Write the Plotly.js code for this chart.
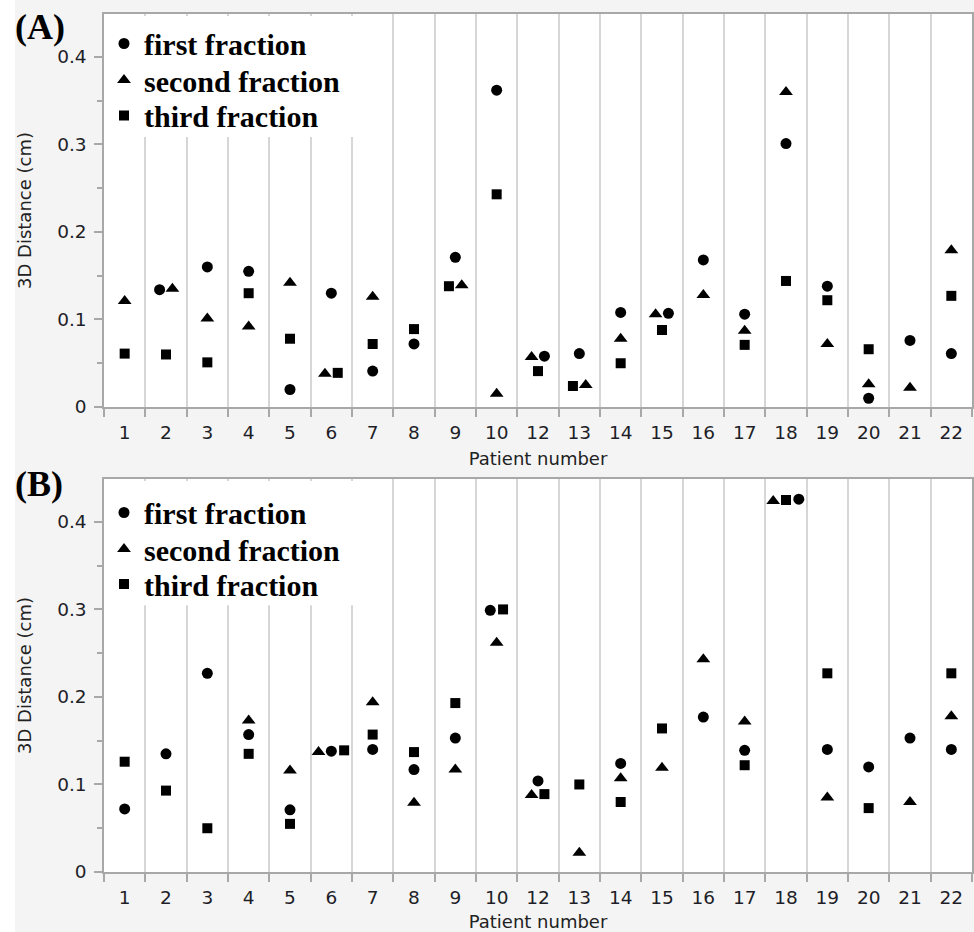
<!DOCTYPE html>
<html>
<head>
<meta charset="utf-8">
<script src="https://cdn.plot.ly/plotly-3.0.1.min.js"></script>
<style>html,body{margin:0;padding:0;background:#f4f4f4;}#chart{width:974px;height:932px;}</style>
</head>
<body>
<div id="chart"></div>
<script>
// ---- Data ----
const patients = ['1','2','3','4','5','6','7','8','9','10','12','13','14','15','16','17','18','19','20','21','22'];
const seriesNames = ['first fraction', 'second fraction', 'third fraction'];

// Panel (A)
const A_first  = [null, 0.134, 0.160, 0.155, 0.020, 0.130, 0.041, 0.072, 0.171, 0.362, 0.058, 0.061, 0.108, 0.107, 0.168, 0.106, 0.301, 0.138, 0.010, 0.076, 0.061];
const A_second = [0.121, 0.135, 0.101, 0.092, 0.142, 0.038, 0.126, null, 0.139, 0.015, 0.057, 0.025, 0.078, 0.106, 0.128, 0.087, 0.360, 0.072, 0.026, 0.022, 0.179];
const A_third  = [0.061, 0.060, 0.051, 0.130, 0.078, 0.039, 0.072, 0.089, 0.138, 0.243, 0.041, 0.024, 0.050, 0.088, null, 0.071, 0.144, 0.122, 0.066, null, 0.127];

// Panel (B)
const B_first  = [0.072, 0.135, 0.227, 0.157, 0.071, 0.138, 0.140, 0.117, 0.153, 0.299, 0.104, null, 0.124, null, 0.177, 0.139, 0.426, 0.140, 0.120, 0.153, 0.140];
const B_second = [null, null, null, 0.173, 0.116, 0.137, 0.194, 0.079, 0.117, 0.262, 0.088, 0.022, 0.107, 0.119, 0.243, 0.172, 0.424, 0.085, null, 0.080, 0.178];
const B_third  = [0.126, 0.093, 0.050, 0.135, 0.055, 0.139, 0.157, 0.137, 0.193, 0.300, 0.089, 0.100, 0.080, 0.164, null, 0.122, 0.425, 0.227, 0.073, null, 0.227];

const yTickVals = [0, 0.1, 0.2, 0.3, 0.4];
const yTickText = ['0', '0.1', '0.2', '0.3', '0.4'];

// ---- Overlap dodge (like the source software): points in one category that
// nearly coincide are spread side by side, ordered by value ----
function dodge(seriesList, threshold, step) {
  const xs = seriesList.map(s => s.map(() => null));
  for (let c = 0; c < patients.length; c++) {
    const pts = [];
    seriesList.forEach((s, si) => { if (s[c] !== null) pts.push({si: si, v: s[c]}); });
    pts.sort((a, b) => a.v - b.v);
    let clusters = [], cur = [];
    pts.forEach(p => {
      if (cur.length && p.v - cur[cur.length - 1].v >= threshold) { clusters.push(cur); cur = []; }
      cur.push(p);
    });
    if (cur.length) clusters.push(cur);
    clusters.forEach(cl => {
      const n = cl.length;
      cl.forEach((p, i) => { xs[p.si][c] = c + (i - (n - 1) / 2) * step; });
    });
  }
  return xs;
}

const symbols = ['circle', 'triangle-up', 'square'];
const sizes = [11, 12, 10];
const idx = patients.map((_, i) => i);

function panelTraces(seriesList, xa, ya, legends) {
  const xs = dodge(seriesList, 0.01, 0.31);
  return seriesList.map((s, i) => ({
    type: 'scatter', mode: 'markers',
    x: xs[i], y: s,
    xaxis: xa, yaxis: ya,
    name: seriesNames[i],
    legend: legends[i],
    marker: {symbol: symbols[i], size: sizes[i], color: '#000'},
    hovertemplate: 'Patient %{text}: %{y}<extra>' + seriesNames[i] + '</extra>',
    text: patients
  }));
}

const traces = [].concat(
  panelTraces([A_first, A_second, A_third], 'x', 'y', ['legend', 'legend2', 'legend3']),
  panelTraces([B_first, B_second, B_third], 'x2', 'y2', ['legend4', 'legend5', 'legend6'])
);

const tickFont = {family: 'DejaVu Sans', size: 18.5, color: '#1e1e28'};
const lineCol = '#a8a8a8';

function xAxis(anchor) {
  return {
    anchor: anchor, domain: [0, 1],
    range: [-0.5, patients.length - 0.5],
    tickmode: 'array', tickvals: idx, ticktext: patients,
    ticks: 'outside', ticklen: 8, tickcolor: 'rgba(0,0,0,0)',
    tickfont: tickFont,
    showgrid: false, zeroline: false,
    showline: true, linecolor: lineCol, linewidth: 1.5, mirror: true,
    minor: {tickmode: 'linear', tick0: -0.5, dtick: 1, ticks: 'outside', ticklen: 8,
            tickcolor: lineCol, tickwidth: 1.5, showgrid: true, gridcolor: '#d6d6d6', gridwidth: 1.5},
    title: {text: 'Patient number', font: {family: 'DejaVu Sans', size: 18, color: '#222'}, standoff: 10}
  };
}
function yAxis(anchor, domain) {
  return {
    anchor: anchor, domain: domain,
    range: [0, 0.449],
    tickmode: 'array', tickvals: yTickVals, ticktext: yTickText,
    ticks: 'outside', ticklen: 8, tickcolor: lineCol, tickwidth: 1.5,
    ticklabelstandoff: 4,
    tickfont: tickFont,
    showgrid: false, zeroline: false,
    showline: true, linecolor: lineCol, linewidth: 1.5, mirror: true,
    minor: {tickmode: 'linear', tick0: 0, dtick: 0.05, ticks: 'outside', ticklen: 5,
            tickcolor: lineCol, tickwidth: 1.5, showgrid: false},
    title: {text: '3D Distance (cm)', font: {family: 'DejaVu Sans', size: 18, color: '#222'}, standoff: 21}
  };
}

const H = 932, T = 14, B = 60, plotH = H - T - B;
function py(pix) { return (H - B - pix) / plotH; }
const legFont = {family: 'Liberation Serif', size: 30, color: '#000', weight: 'bold'};
function leg(yPix) {
  return {x: 0, xanchor: 'left', y: py(yPix), yanchor: 'middle',
          bgcolor: 'rgba(0,0,0,0)', borderwidth: 0, font: legFont};
}

const layout = {
  width: 974, height: 932,
  margin: {l: 104, r: 2, t: T, b: B},
  paper_bgcolor: '#f4f4f4', plot_bgcolor: '#ffffff',
  showlegend: true,
  xaxis: xAxis('y'),
  yaxis: yAxis('x', [py(407), 1]),
  xaxis2: xAxis('y2'),
  yaxis2: yAxis('x2', [0, py(479)]),
  legend: leg(43.5), legend2: leg(80), legend3: leg(115.5),
  legend4: leg(512.5), legend5: leg(549), legend6: leg(584),
  shapes: [
    {type: 'rect', xref: 'x domain', yref: 'y domain', x0: 0.0025, x1: 0.33, y0: 0.687, y1: 0.995,
     fillcolor: '#ffffff', line: {width: 0}, layer: 'above'},
    {type: 'rect', xref: 'x2 domain', yref: 'y2 domain', x0: 0.0025, x1: 0.33, y0: 0.679, y1: 0.995,
     fillcolor: '#ffffff', line: {width: 0}, layer: 'above'},
    {type: 'rect', xref: 'paper', yref: 'paper', x0: -104 / 868, x1: (15 - 104) / 868,
     y0: -B / plotH, y1: 1 + T / plotH, fillcolor: '#ffffff', line: {width: 0}, layer: 'below'}
  ],
  annotations: [
    {text: '(A)', xref: 'paper', yref: 'paper', x: (13 - 104) / 868, xanchor: 'left', y: py(27), yanchor: 'middle',
     showarrow: false, font: {family: 'Liberation Serif', size: 36, color: '#000', weight: 'bold'}},
    {text: '(B)', xref: 'paper', yref: 'paper', x: (13 - 104) / 868, xanchor: 'left', y: py(484), yanchor: 'middle',
     showarrow: false, font: {family: 'Liberation Serif', size: 36, color: '#000', weight: 'bold'}}
  ]
};

Plotly.newPlot('chart', traces, layout, {displayModeBar: false});
</script>
</body>
</html>
